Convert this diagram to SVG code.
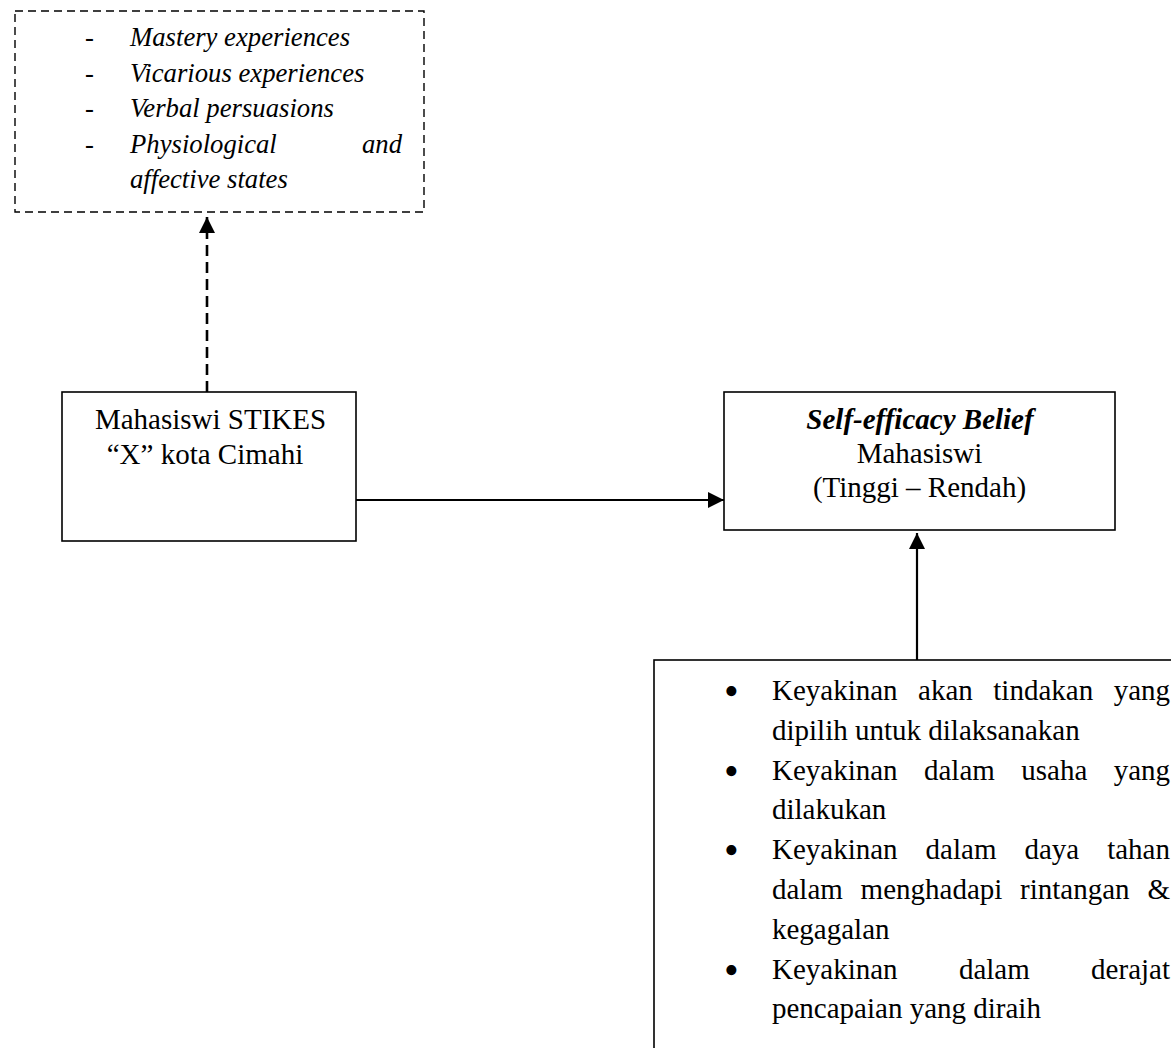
<svg xmlns="http://www.w3.org/2000/svg" width="1171" height="1048" viewBox="0 0 1171 1048">
<style>
.t{font-family:"Liberation Serif","Times New Roman",serif;font-size:29px;fill:#000}
.it{font-family:"Liberation Serif","Times New Roman",serif;font-size:26.7px;font-style:italic;fill:#000}
.dash{font-family:"Liberation Serif","Times New Roman",serif;font-size:26.7px;fill:#000}
.bul{font-family:"Liberation Serif","Times New Roman",serif;font-size:42px;fill:#000}
.box{fill:#fff;stroke:#000;stroke-width:1.6}
.c{text-anchor:middle}
.e{text-anchor:end}
</style>
<defs>
<marker id="ah" viewBox="0 0 16 16" refX="16" refY="8" markerWidth="16" markerHeight="16" markerUnits="userSpaceOnUse" orient="auto">
<path d="M0,0 L16,8 L0,16 Z" fill="#000"/>
</marker>
</defs>
<rect width="1171" height="1048" fill="#fff"/>

<g id="connectors" fill="none" stroke="#000">
<line x1="207" y1="392" x2="207" y2="217" stroke-width="2.6" stroke-dasharray="11 6" marker-end="url(#ah)"/>
<line x1="356" y1="500" x2="724" y2="500" stroke-width="2.2" marker-end="url(#ah)"/>
<line x1="917" y1="660" x2="917" y2="533" stroke-width="2.2" marker-end="url(#ah)"/>
</g>

<g id="sources">
<rect x="15" y="11" width="409" height="201" fill="#fff" stroke="#000" stroke-width="1.4" stroke-dasharray="8 5"/>
<text class="dash" x="85" y="46">-</text>
<text class="it" x="130" y="46">Mastery experiences</text>
<text class="dash" x="85" y="81.5">-</text>
<text class="it" x="130" y="81.5">Vicarious experiences</text>
<text class="dash" x="85" y="117">-</text>
<text class="it" x="130" y="117">Verbal persuasions</text>
<text class="dash" x="85" y="152.5">-</text>
<text class="it" x="130" y="152.5">Physiological</text>
<text class="it e" x="402" y="152.5">and</text>
<text class="it" x="130" y="188">affective states</text>
</g>

<g id="mahasiswa">
<rect class="box" x="62" y="392" width="294" height="149"/>
<text class="t c" x="210.5" y="429">Mahasiswi STIKES</text>
<text class="t c" x="205" y="464">“X” kota Cimahi</text>
</g>

<g id="self-efficacy">
<rect class="box" x="724" y="392" width="391" height="138"/>
<text class="t c" x="920" y="429" font-weight="bold" font-style="italic">Self-efficacy Belief</text>
<text class="t c" x="919.5" y="463">Mahasiswi</text>
<text class="t c" x="919.5" y="497">(Tinggi – Rendah)</text>
</g>

<g id="aspects">
<rect class="box" x="654" y="660" width="600" height="500"/>
<text class="bul" x="724" y="705">•</text>
<text class="t" x="772" y="700">Keyakinan</text>
<text class="t" x="918.1" y="700">akan</text>
<text class="t" x="993.3" y="700">tindakan</text>
<text class="t e" x="1170" y="700">yang</text>
<text class="t" x="772" y="739.8">dipilih untuk dilaksanakan</text>
<text class="bul" x="724" y="784.6">•</text>
<text class="t" x="772" y="779.6">Keyakinan</text>
<text class="t" x="924" y="779.6">dalam</text>
<text class="t" x="1021.3" y="779.6">usaha</text>
<text class="t e" x="1170" y="779.6">yang</text>
<text class="t" x="772" y="819.4">dilakukan</text>
<text class="bul" x="724" y="864.2">•</text>
<text class="t" x="772" y="859.2">Keyakinan</text>
<text class="t" x="925.6" y="859.2">dalam</text>
<text class="t" x="1024.5" y="859.2">daya</text>
<text class="t e" x="1170" y="859.2">tahan</text>
<text class="t" x="772" y="899">dalam</text>
<text class="t" x="860.6" y="899">menghadapi</text>
<text class="t" x="1020.1" y="899">rintangan</text>
<text class="t e" x="1170" y="899">&amp;</text>
<text class="t" x="772" y="938.8">kegagalan</text>
<text class="bul" x="724" y="983.6">•</text>
<text class="t" x="772" y="978.6">Keyakinan</text>
<text class="t" x="958.9" y="978.6">dalam</text>
<text class="t e" x="1170" y="978.6">derajat</text>
<text class="t" x="772" y="1018.4">pencapaian yang diraih</text>
</g>
</svg>
